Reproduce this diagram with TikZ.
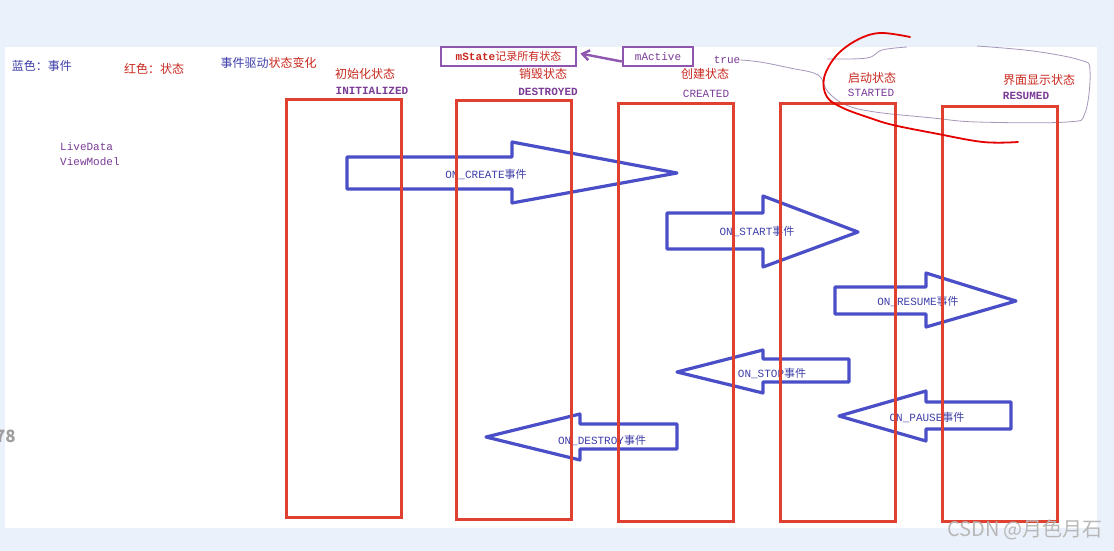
\documentclass[tikz,border=0pt]{standalone}
\usepackage{fontspec}
\setmainfont{Liberation Mono}
\newfontfamily\cjk{Noto Sans CJK SC}
\usetikzlibrary{arrows.meta,calc}
\newcommand\myzh[1]{{\cjk #1}}
\definecolor{bgblue}{HTML}{EBF1FA}
\definecolor{redbox}{HTML}{E0402F}
\definecolor{bluearrow}{HTML}{4A4FC8}
\definecolor{textblue}{HTML}{3F3FAA}
\definecolor{textred}{HTML}{C8281E}
\definecolor{textpurple}{HTML}{7B3B96}
\definecolor{boxpurple}{HTML}{8E56AE}
\definecolor{lasso}{HTML}{A597B9}
\tikzset{
  statebox/.style={draw=redbox,line width=3pt,inner sep=0pt,minimum width=115pt},
  evt/.style={draw=bluearrow,line width=3.2pt,line join=round},
  evtlabel/.style={text=textblue,inner sep=0pt,font=\fontsize{11}{13}\selectfont},
  zhred/.style={text=textred,inner sep=0pt,font=\cjk\fontsize{12}{14}\selectfont},
  zhblue/.style={text=textblue,inner sep=0pt,font=\cjk\fontsize{12}{14}\selectfont},
  enlabel/.style={text=textpurple,inner sep=0pt,font=\fontsize{11}{13}\selectfont},
  enbold/.style={enlabel,font=\bfseries\fontsize{11}{13}\selectfont},
  pbox/.style={draw=boxpurple,line width=2.6pt,inner sep=0pt,minimum height=19pt,font=\fontsize{11}{13}\selectfont},
}
\begin{document}
\begin{tikzpicture}[x=1pt,y=-1pt]
\useasboundingbox (0,0) rectangle (1114,551);
\fill[bgblue] (0,0) rectangle (1114,551);
\fill[white] (5,47) rectangle (1097,528);

% legend texts
\node[zhblue] (lg1) at (42,66) {蓝色：事件};
\node[zhred] (lg2) at (154,69) {红色：状态};
\node[inner sep=0pt,font=\cjk\fontsize{12}{14}\selectfont] (lg3) at (268.5,63) {\textcolor{textblue}{事件驱动}\textcolor{textred}{状态变化}};
\node[enlabel,anchor=west] (ld) at (60,147) {LiveData};
\node[enlabel,anchor=west] (vm) at (60,162) {ViewModel};

% top boxes
\node[pbox,minimum width=135pt,text=textred] (mstate) at (508.5,56.5) {\textbf{mState}\myzh{记录所有状态}};
\node[pbox,minimum width=70pt,text=textpurple] (mactive) at (658,56.5) {mActive};
\draw[boxpurple,line width=2.4pt,-{Straight Barb[length=7pt,width=10pt]}] ($(mactive.west)+(0,5)$) -- ($(mstate.east)+(3,-3)$);
\node[enlabel] (tr) at (727,60) {true};

% state titles
\node[zhred] (t1) at (365,74) {初始化状态};
\node[enbold] (e1) at (372,91) {INITIALIZED};
\node[zhred] (t2) at (543,74) {销毁状态};
\node[enbold] (e2) at (548,92) {DESTROYED};
\node[zhred] (t3) at (705,74) {创建状态};
\node[enlabel] (e3) at (706,94) {CREATED};
\node[zhred] (t4) at (872,78) {启动状态};
\node[enlabel] (e4) at (871,93) {STARTED};
\node[zhred] (t5) at (1039,80) {界面显示状态};
\node[enbold] (e5) at (1026,96) {RESUMED};

% lasso (thin hand drawn)
\draw[lasso,line width=0.8pt] plot[smooth,tension=0.6] coordinates {(tr.east) (760,62) (790,68) (818,75) (828,92) (846,105) (875,112) (933,118) (977,122) (1067,122) (1085,113) (1090,70) (1080,60) (1033,51) (977,46)};
\draw[lasso,line width=0.8pt] plot[smooth,tension=0.6] coordinates {(907,47) (882,50) (867,58) (827,59)};

% event block arrows
\draw[evt] (347,157) -- (512,157) -- (512,142) -- (677,173) -- (512,203) -- (512,189) -- (347,189) -- cycle;
\node[evtlabel] (a1) at (486,174) {ON\_CREATE\myzh{事件}};
\draw[evt] (667,213) -- (763,213) -- (763,196) -- (858,232) -- (763,267) -- (763,249) -- (667,249) -- cycle;
\node[evtlabel] (a2) at (757,231) {ON\_START\myzh{事件}};
\draw[evt] (835,287) -- (926,287) -- (926,273) -- (1016,301) -- (926,327) -- (926,314) -- (835,314) -- cycle;
\node[evtlabel] (a3) at (918,301) {ON\_RESUME\myzh{事件}};
\draw[evt] (849,359) -- (763,359) -- (763,350) -- (677,372) -- (763,393) -- (763,382) -- (849,382) -- cycle;
\node[evtlabel] (a4) at (772,373) {ON\_STOP\myzh{事件}};
\draw[evt] (1011,402) -- (926,402) -- (926,391) -- (839,416) -- (926,441) -- (926,429) -- (1011,429) -- cycle;
\node[evtlabel] (a5) at (927,417) {ON\_PAUSE\myzh{事件}};
\draw[evt] (677,424) -- (580,424) -- (580,414) -- (486,437) -- (580,460) -- (580,449) -- (677,449) -- cycle;
\node[evtlabel] (a6) at (602,440) {ON\_DESTROY\myzh{事件}};

% state boxes
\node[statebox,minimum height=418pt] (s1) at (343.5,308) {};
\node[statebox,minimum height=419pt] (s2) at (513.5,309.5) {};
\node[statebox,minimum height=418pt] (s3) at (676,312) {};
\node[statebox,minimum height=418pt] (s4) at (838,312) {};
\node[statebox,minimum height=415pt] (s5) at (1000,313.5) {};

% red freehand stroke
\draw[red!90!black,line width=1.8pt,line cap=round] plot[smooth,tension=0.6] coordinates {(910,37) (880,33) (857,40) (836,56) (824,78) (827,97) (843,108) (870,118) (893,125) (933,133) (983,142) (1018,142)};

% watermark and stray text
\node[inner sep=0pt,anchor=east,text=black!38,font=\cjk\bfseries\fontsize{17}{19}\selectfont] (n78) at (16,436) {78};
\node[inner sep=0pt,text=black!28,font=\cjk\fontsize{20}{22}\selectfont] (wm) at (1025,530) {CSDN @月色月石};
\end{tikzpicture}
\end{document}
